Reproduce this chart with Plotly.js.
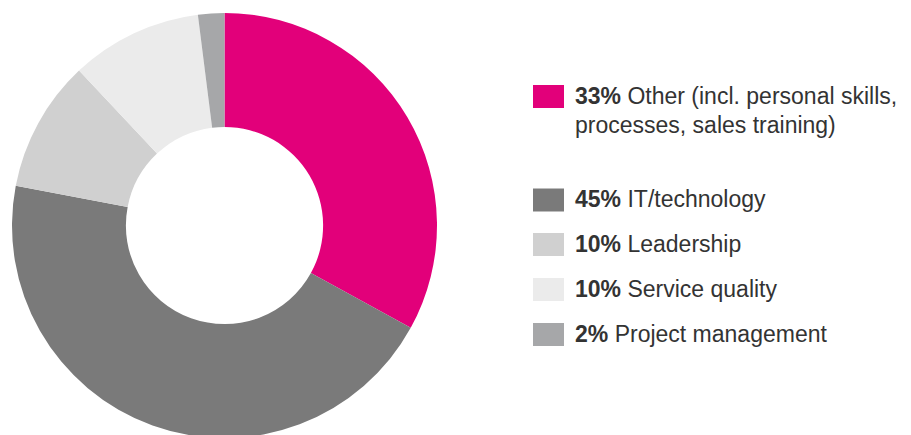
<!DOCTYPE html>
<html>
<head>
<meta charset="utf-8">
<script src="https://cdn.plot.ly/plotly-3.0.1.min.js"></script>
<style>
html,body{margin:0;padding:0;overflow:hidden;background:#fff;}
#chart{width:911px;height:451px;}
</style>
</head>
<body>
<div id="chart"></div>
<script>
// Data
var categories = ["Other (incl. personal skills,\nprocesses, sales training)", "IT/technology", "Leadership", "Service quality", "Project management"];
var shares = [33, 45, 10, 10, 2];
var colors = ["#E2007A", "#7A7A7A", "#D0D0D0", "#EBEBEB", "#A6A7A9"];

var W = 911, H = 451;
function py(p){ return 1 - p / H; }
function px(p){ return p / W; }

var trace = {
  type: "pie",
  values: shares,
  labels: categories.map(function(c){ return c.replace("\n", " "); }),
  marker: {colors: colors, line: {width: 0}},
  hole: 0.464,
  sort: false,
  direction: "clockwise",
  rotation: 0,
  textinfo: "none",
  hoverinfo: "none",
  showlegend: false,
  domain: {x: [px(12), px(437)], y: [py(438), py(13)]}
};

var annotations = [];
var shapes = [];
var rowY = [96.5, 200, 244.5, 289.5, 334.5];
var lineGap = 29;
for (var i = 0; i < categories.length; i++) {
  var yc = rowY[i];
  shapes.push({
    type: "rect", xref: "paper", yref: "paper",
    x0: px(533), x1: px(564), y0: py(yc + 11.5), y1: py(yc - 11.5),
    fillcolor: colors[i], line: {width: 0}, layer: "above"
  });
  var lines = categories[i].split("\n");
  for (var j = 0; j < lines.length; j++) {
    var txt = (j === 0 ? "<b>" + shares[i] + "%</b> " : "") + lines[j];
    annotations.push({
      xref: "paper", yref: "paper",
      x: px(573), y: py(yc - 1 + j * lineGap),
      xanchor: "left", yanchor: "middle",
      text: txt, showarrow: false,
      font: {family: "Liberation Sans, Arial, sans-serif", size: 23, color: "#333333"}
    });
  }
}

var layout = {
  width: W, height: H,
  margin: {l: 0, r: 0, t: 0, b: 0},
  paper_bgcolor: "#ffffff",
  showlegend: false,
  annotations: annotations,
  shapes: shapes
};

Plotly.newPlot("chart", [trace], layout, {staticPlot: true, displayModeBar: false});
</script>
</body>
</html>
